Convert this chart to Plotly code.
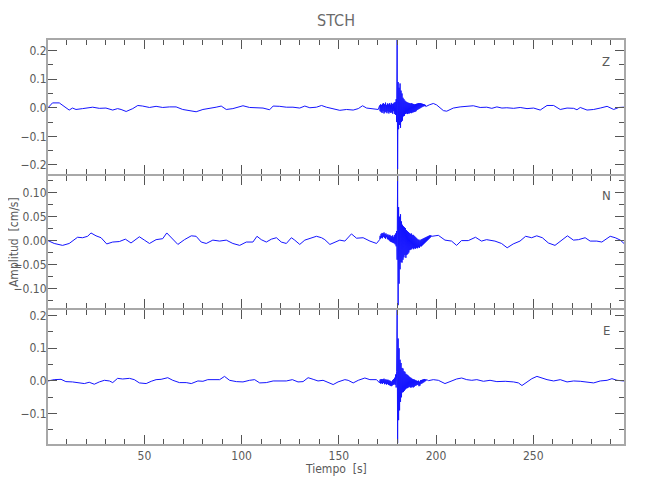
import numpy as np
import plotly.graph_objects as go
from plotly.subplots import make_subplots

FONT = "DejaVu Sans Condensed, Liberation Sans Narrow, Liberation Sans, sans-serif"

# ---------------- data (time [s], amplitude [cm/s]) ----------------
burst_t0 = 171.0
burst_dt = 0.25

# Z component
z_t_pre = [0.4, 2.7, 6.2, 8.8, 11.3, 13.0, 14.8, 18.2, 23.4, 26.8, 30.2, 33.7, 36.2, 38.0, 40.6,
           44.0, 46.6, 49.1, 52.6, 56.0, 59.4, 62.9, 66.3, 69.7, 73.2, 76.6, 80.1, 83.5, 86.9, 89.5,
           92.1, 95.5, 100.7, 104.1, 107.6, 111.0, 114.4, 116.2, 119.6, 123.0, 126.4, 129.9, 132.5,
           135.1, 138.5, 141.1, 143.6, 147.1, 150.5, 154.0, 157.4, 160.0, 162.2, 164.3, 167.7, 170.3]
z_v_pre = [0.0, 0.017, 0.017, 0.005, -0.008, -0.001, -0.006, -0.003, 0.002, -0.002, -0.001, -0.008,
           -0.003, -0.006, -0.013, -0.003, 0.008, 0.006, 0.001, 0.005, 0.001, 0.003, 0.003, -0.006,
           -0.010, -0.014, -0.006, -0.003, 0.002, 0.006, -0.006, -0.003, 0.007, 0.001, -0.001, -0.001,
           -0.007, 0.006, 0.005, 0.002, 0.002, -0.001, 0.006, 0.0, 0.002, 0.008, 0.002, -0.003, -0.009,
           -0.006, -0.008, -0.003, 0.007, -0.001, -0.003, -0.006]
z_burst = [0.008, -0.012, 0.012, -0.015, 0.010, -0.018, 0.014, -0.012, 0.016, -0.020, 0.012, -0.016,
           0.018, -0.014, 0.010, -0.019, 0.015, -0.013, 0.012, -0.020, 0.016, -0.015, 0.011, -0.018,
           0.017, -0.016, 0.013, -0.021, 0.015, -0.012, 0.018, -0.022, 0.020, -0.025,
           0.03, -0.05, 0.24, -0.215, 0.09, -0.075, 0.07, -0.06, 0.085, -0.07, 0.06, -0.05, 0.05, -0.045,
           0.035, -0.03, 0.03, -0.028, 0.025, -0.022, 0.022, -0.02, 0.02, -0.022, 0.018, -0.02,
           0.017, -0.02, 0.016, -0.018, 0.015, -0.019, 0.016, -0.017, 0.014, -0.016, 0.013, -0.015,
           0.012, -0.014, 0.013, -0.012, 0.014, -0.008, 0.015, -0.006, 0.016, -0.004, 0.016, -0.002,
           0.016, 0.0, 0.015, 0.002, 0.014, 0.004, 0.013, 0.005, 0.012, 0.006, 0.010, 0.004, 0.005]
z_t_post = [196.5, 198.6, 200.3, 203.8, 205.5, 208.9, 212.4, 215.8, 219.2, 222.7, 226.1, 228.7, 231.3,
            233.9, 236.4, 239.9, 243.3, 246.8, 250.2, 253.6, 257.1, 260.5, 263.9, 267.4, 270.8, 272.5,
            274.2, 277.7, 281.1, 284.5, 288.0, 291.4, 294.0, 296.7]
z_v_post = [0.010, 0.015, 0.010, -0.010, -0.012, -0.001, 0.003, 0.005, 0.007, 0.001, 0.002, -0.002,
            0.003, -0.001, 0.0, -0.002, 0.001, -0.003, -0.001, -0.008, 0.008, 0.008, -0.006, -0.001,
            -0.002, -0.007, 0.001, -0.008, -0.006, -0.001, 0.005, -0.006, 0.001, 0.002]

# N component
n_t_pre = [0.4, 3.6, 7.9, 11.3, 15.6, 18.2, 20.8, 22.5, 25.1, 27.7, 30.6, 33.7, 37.1, 40.2, 43.1,
           45.7, 47.4, 50.0, 52.6, 56.0, 59.4, 61.5, 63.7, 67.2, 70.6, 74.1, 76.6, 79.2, 81.8, 85.2,
           88.7, 92.1, 95.5, 99.0, 102.4, 105.8, 107.9, 110.1, 112.7, 115.3, 117.9, 120.4, 123.0,
           125.6, 127.3, 129.9, 132.5, 135.9, 138.5, 141.1, 142.8, 145.4, 147.9, 150.5, 153.1, 156.5,
           159.1, 162.5, 166.0, 169.4]
n_v_pre = [0.0, -0.006, -0.010, -0.006, 0.007, 0.006, 0.009, 0.016, 0.010, 0.006, -0.007, -0.003,
           -0.002, 0.003, -0.005, 0.002, 0.008, 0.001, -0.006, 0.002, 0.004, 0.016, 0.006, -0.008,
           0.002, 0.010, 0.009, -0.003, -0.006, 0.001, -0.001, 0.001, -0.006, -0.010, -0.003, -0.003,
           0.009, 0.002, -0.003, 0.003, 0.006, -0.003, -0.006, 0.006, 0.001, -0.008, 0.001, 0.006,
           0.009, 0.006, 0.002, -0.008, -0.003, 0.001, -0.001, 0.014, 0.005, 0.006, -0.001, -0.006]
n_burst = [0.002, 0.010, 0.004, 0.014, 0.006, 0.016, 0.005, 0.015, 0.008, 0.017, 0.006, 0.014,
           0.004, 0.015, 0.007, 0.012, 0.003, 0.013, 0.002, 0.011, 0.000, 0.012, -0.002, 0.010,
           -0.003, 0.009, -0.004, 0.011, -0.005, 0.008, -0.006, 0.012, -0.008, 0.015, -0.012, 0.020,
           -0.04, 0.136, -0.135, 0.07, -0.09, 0.05, -0.06, 0.055, -0.045, 0.04, -0.046, 0.033,
           -0.04, 0.03, -0.035, 0.028, -0.03, 0.026, -0.036, 0.022, -0.03, 0.02, -0.028, 0.018,
           -0.025, 0.016, -0.02, 0.014, -0.019, 0.015, -0.018, 0.012, -0.016, 0.012, -0.018, 0.010,
           -0.016, 0.008, -0.017, 0.006, -0.015, 0.004, -0.016, 0.002, -0.014, 0.002, -0.015, 0.0,
           -0.012, 0.002, -0.012, 0.003, -0.010, 0.004, -0.008, 0.005, -0.006, 0.006, -0.004, 0.007,
           -0.002, 0.008, 0.0, 0.009, 0.002, 0.010, 0.004, 0.011, 0.006, 0.011, 0.008, 0.010, 0.009]
n_t_post = [199.5, 201.2, 204.6, 208.0, 210.6, 213.1, 216.6, 220.3, 223.4, 226.0, 230.3, 233.7, 236.6,
            239.7, 243.2, 246.1, 249.2, 251.8, 254.7, 257.8, 261.2, 264.7, 267.6, 270.7, 273.3, 276.7,
            279.3, 282.7, 285.3, 289.6, 292.2, 294.8, 296.7]
n_v_post = [0.010, 0.011, 0.001, -0.001, -0.010, 0.0, 0.0, 0.007, -0.001, 0.002, -0.001, -0.006,
            -0.015, -0.007, -0.001, 0.009, 0.006, 0.010, 0.006, -0.005, -0.010, 0.001, 0.010, 0.001,
            0.002, 0.006, -0.001, -0.001, -0.003, 0.009, 0.006, 0.001, -0.006]

# E component
e_t_pre = [0.4, 3.6, 7.1, 9.6, 13.0, 16.5, 19.1, 21.6, 24.2, 26.8, 29.4, 32.0, 33.7, 36.2, 38.8,
           42.3, 44.8, 47.4, 50.9, 53.5, 56.0, 58.6, 62.0, 64.6, 68.0, 71.5, 74.1, 77.5, 80.1, 82.6,
           86.1, 88.7, 91.2, 93.8, 97.3, 100.7, 104.1, 106.7, 109.3, 112.7, 116.2, 119.6, 123.0,
           126.1, 129.0, 131.6, 134.2, 136.8, 139.3, 141.9, 144.2, 147.1, 149.6, 153.1, 154.8, 157.4,
           160.0, 163.4, 166.0, 169.4]
e_v_pre = [0.0, 0.004, 0.005, -0.002, -0.003, -0.006, -0.008, -0.004, -0.010, -0.003, 0.002, 0.0,
           -0.005, 0.008, 0.006, 0.008, 0.004, -0.006, -0.008, -0.001, 0.004, 0.005, 0.010, 0.002,
           -0.005, -0.005, -0.008, 0.0, -0.001, 0.004, 0.004, 0.004, 0.014, 0.002, -0.002, -0.003,
           0.002, 0.004, -0.006, -0.005, 0.0, 0.0, 0.0, 0.004, -0.003, -0.002, 0.010, 0.005, 0.0,
           0.002, -0.004, -0.011, -0.003, 0.004, 0.002, -0.006, 0.002, 0.009, 0.004, 0.004]
e_burst = [-0.006, 0.004, -0.008, 0.006, -0.007, 0.005, -0.009, 0.006, -0.006, 0.007, -0.010, 0.004,
           -0.008, 0.005, -0.011, 0.003, -0.009, 0.004, -0.012, 0.002, -0.013, 0.001, -0.015, 0.0,
           -0.016, -0.002, -0.014, 0.003, -0.012, 0.006, -0.010, 0.010, -0.012, 0.020, -0.02, 0.03,
           0.217, -0.19, 0.13, -0.12, 0.10, -0.09, 0.065, -0.064, 0.055, -0.05, 0.04, -0.035,
           0.038, -0.034, 0.03, -0.03, 0.028, -0.026, 0.022, -0.023, 0.02, -0.022, 0.018, -0.02,
           0.015, -0.018, 0.012, -0.02, 0.01, -0.02, 0.008, -0.018, 0.006, -0.02, 0.005, -0.018,
           0.004, -0.015, 0.002, -0.014, 0.001, -0.012, 0.0, -0.012, 0.001, -0.016, -0.002, -0.014,
           0.002, -0.009, 0.003, -0.008, 0.004, -0.006, 0.005, -0.004, 0.006, -0.002, 0.005, 0.0,
           0.004, 0.002, 0.003]
e_t_post = [196.2, 198.6, 201.2, 204.6, 207.2, 210.6, 213.2, 215.8, 218.4, 221.0, 224.4, 227.8, 231.3,
            235.6, 239.9, 242.4, 244.2, 246.8, 249.3, 251.9, 254.5, 257.1, 260.5, 263.9, 267.4, 270.8,
            274.2, 277.7, 281.1, 284.5, 288.0, 290.5, 293.1, 296.7]
e_v_post = [0.001, 0.004, 0.002, -0.008, -0.002, 0.006, 0.009, 0.004, 0.002, 0.004, -0.001, 0.002,
            -0.002, -0.001, -0.003, -0.006, -0.014, -0.003, 0.007, 0.014, 0.009, 0.004, 0.0, 0.004,
            -0.003, 0.0, -0.001, -0.003, -0.006, 0.0, 0.002, 0.007, 0.002, 0.0]

components = ["Z", "N", "E"]
x_range = [0.4, 296.7]
y_ranges = [[-0.230, 0.237], [-0.141, 0.136], [-0.193, 0.217]]
y_dticks = [0.1, 0.05, 0.1]
y_minor = [0.05, 0.025, 0.05]
y_formats = [".1f", ".2f", ".1f"]

series = [
    (z_t_pre, z_v_pre, z_burst, z_t_post, z_v_post),
    (n_t_pre, n_v_pre, n_burst, n_t_post, n_v_post),
    (e_t_pre, e_v_pre, e_burst, e_t_post, e_v_post),
]


def assemble(t_pre, v_pre, burst, t_post, v_post):
    assert len(t_pre) == len(v_pre) and len(t_post) == len(v_post)
    t_b = burst_t0 + burst_dt * np.arange(len(burst))
    t = np.concatenate([t_pre, t_b, t_post])
    v = np.concatenate([v_pre, burst, v_post])
    return t, v


# ---------------- figure ----------------
fig = make_subplots(rows=3, cols=1, shared_xaxes=True, vertical_spacing=0)

for i, s in enumerate(series):
    t, v = assemble(*s)
    fig.add_trace(go.Scatter(x=t, y=v, mode="lines",
                             line=dict(color="rgb(20,20,255)", width=1),
                             showlegend=False, hoverinfo="skip"),
                  row=i + 1, col=1)

LINE_C = "#a8a8a8"
TICK_C = "#555555"
TXT_C = "#5a5a5a"

g = 0.0025
domains = [[0.667 + g, 1.0], [0.334 + g, 0.667 - g], [0.0, 0.334 - g]]
for i in range(3):
    xa = dict(range=x_range, showline=True, linecolor=LINE_C, linewidth=2, mirror="ticks",
              ticks="inside", ticklen=9, tickwidth=1, tickcolor=TICK_C, automargin=False,
              tick0=0, dtick=50, showgrid=False, zeroline=False,
              minor=dict(ticks="inside", ticklen=5, tickwidth=1, tickcolor=TICK_C, dtick=10, showgrid=False),
              showticklabels=(i == 2),
              tickfont=dict(family=FONT, size=12, color=TXT_C))
    ya = dict(range=y_ranges[i], domain=domains[i], showline=True, linecolor=LINE_C, linewidth=2,
              mirror="ticks", ticks="inside", ticklen=9, tickwidth=1, tickcolor=TICK_C,
              automargin=False, ticklabelstandoff=-3,
              tick0=0, dtick=y_dticks[i], tickformat=y_formats[i], showgrid=False, zeroline=False,
              minor=dict(ticks="inside", ticklen=5, tickwidth=1, tickcolor=TICK_C,
                         dtick=y_minor[i], showgrid=False),
              tickfont=dict(family=FONT, size=12, color=TXT_C))
    fig.update_xaxes(**xa, row=i + 1, col=1)
    fig.update_yaxes(**ya, row=i + 1, col=1)

label_y = [0.948, 0.614, 0.280]
for i, c in enumerate(components):
    fig.add_annotation(text=c, xref="paper", yref="paper", x=0.969, y=label_y[i],
                       showarrow=False, xanchor="center", yanchor="middle",
                       font=dict(family=FONT, size=13, color=TXT_C))

fig.add_annotation(text="Amplitud\u00a0\u00a0[cm/s]", xref="paper", yref="paper", x=-0.059, y=0.5,
                   textangle=-90, showarrow=False, xanchor="center", yanchor="middle",
                   font=dict(family=FONT, size=12, color=TXT_C))
fig.add_annotation(text="Tiempo\u00a0\u00a0[s]", xref="paper", yref="paper", x=0.5, y=-0.062,
                   showarrow=False, xanchor="center", yanchor="middle",
                   font=dict(family=FONT, size=12, color=TXT_C))

# page body adds an 8 px offset, so the figure is 8 px smaller and margins shifted
fig.update_layout(
    width=642, height=492,
    margin=dict(l=40, r=26, t=32, b=56, autoexpand=False),
    paper_bgcolor="white", plot_bgcolor="white",
    title=dict(text="STCH", x=0.511, xanchor="center", y=0.9756, yanchor="middle",
               font=dict(family=FONT, size=16, color="#6a6a6a")),
    showlegend=False,
)

fig.write_html("out.html")
